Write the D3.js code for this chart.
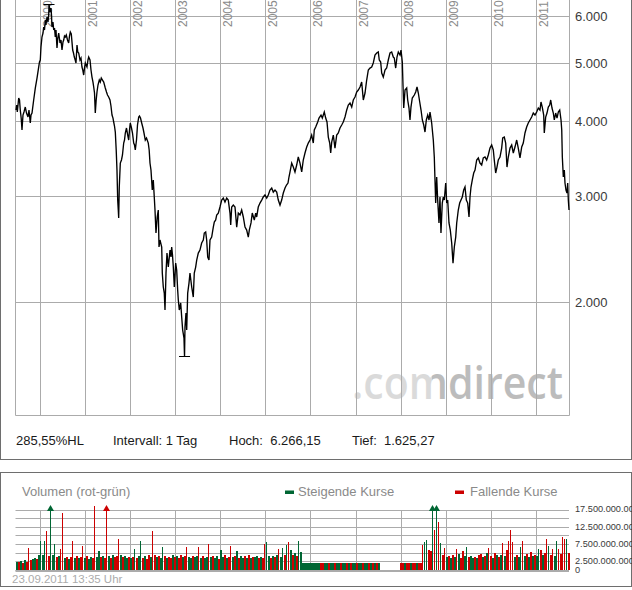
<!DOCTYPE html>
<html><head><meta charset="utf-8">
<script src="https://cdn.jsdelivr.net/npm/d3@7"></script>
<style>
html,body{margin:0;padding:0;background:#fff;overflow:hidden}
svg{display:block;font-family:"Liberation Sans",Arial,sans-serif}
</style></head><body>
<svg id="c" width="632" height="590"></svg>
<script>
// ---- price series (decimal year, index level) ----
const priceDates = [
1999.459,1999.474,1999.488,1999.519,1999.537,1999.554,1999.574,1999.592,1999.614,1999.636,1999.665,1999.692,1999.725,1999.747,1999.776,1999.792,1999.814,1999.851,1999.887,1999.925,1999.962,1999.980,1999.998,
2000.013,2000.035,2000.058,2000.073,2000.091,2000.109,2000.124,2000.146,2000.169,2000.184,2000.191,2000.220,2000.235,2000.246,2000.257,2000.279,2000.295,2000.313,2000.330,2000.346,2000.368,2000.386,2000.406,2000.435,2000.457,2000.479,2000.501,2000.517,2000.534,2000.552,2000.574,2000.601,2000.627,2000.645,2000.663,2000.685,2000.716,2000.734,2000.752,2000.772,2000.789,2000.812,2000.829,2000.849,2000.878,2000.900,2000.922,2000.940,2000.960,2000.978,2000.996,
2001.033,2001.055,2001.071,2001.100,2001.122,2001.144,2001.166,2001.182,2001.200,2001.217,2001.237,2001.255,2001.277,2001.306,2001.328,2001.350,2001.377,2001.404,2001.439,2001.466,2001.488,2001.514,2001.543,2001.565,2001.588,2001.610,2001.625,2001.643,2001.661,2001.681,2001.698,2001.714,2001.727,2001.736,2001.749,2001.772,2001.798,2001.820,2001.847,2001.865,2001.883,2001.909,2001.936,2001.958,2001.976,2001.993,
2002.020,2002.042,2002.069,2002.087,2002.104,2002.131,2002.153,2002.180,2002.197,2002.220,2002.246,2002.275,2002.297,2002.326,2002.353,2002.392,2002.412,2002.430,2002.452,2002.481,2002.503,2002.525,2002.541,2002.563,2002.590,2002.614,2002.630,2002.652,2002.690,2002.703,2002.725,2002.747,2002.763,2002.785,2002.807,2002.836,2002.874,2002.896,2002.911,2002.929,2002.947,2002.969,
2003.000,2003.022,2003.044,2003.058,2003.080,2003.111,2003.133,2003.155,2003.184,2003.196,2003.206,2003.228,2003.244,2003.266,2003.295,2003.317,2003.355,2003.390,2003.412,2003.443,2003.466,2003.501,2003.538,2003.576,2003.612,2003.634,2003.665,2003.687,2003.710,2003.738,2003.761,2003.798,2003.834,2003.856,2003.887,2003.909,2003.945,2003.982,
2004.020,2004.055,2004.093,2004.131,2004.166,2004.204,2004.220,2004.242,2004.277,2004.315,2004.353,2004.388,2004.426,2004.463,2004.499,2004.537,2004.574,2004.610,2004.632,2004.670,2004.698,2004.743,2004.774,2004.796,2004.831,2004.869,2004.907,2004.942,2004.980,
2005.018,2005.053,2005.091,2005.129,2005.164,2005.202,2005.240,2005.275,2005.313,2005.350,2005.386,2005.424,2005.457,2005.490,2005.512,2005.535,2005.572,2005.608,2005.645,2005.683,2005.718,2005.756,2005.794,2005.829,2005.867,2005.905,2005.940,2005.978,
2006.015,2006.051,2006.073,2006.104,2006.149,2006.178,2006.222,2006.251,2006.295,2006.326,2006.355,2006.384,2006.415,2006.437,2006.459,2006.495,2006.532,2006.570,2006.606,2006.643,2006.681,2006.716,2006.754,2006.792,2006.827,2006.865,2006.903,2006.938,2006.976,
2007.013,2007.049,2007.087,2007.124,2007.160,2007.198,2007.235,2007.271,2007.308,2007.346,2007.381,2007.419,2007.457,2007.492,2007.514,2007.545,2007.568,2007.603,2007.641,2007.678,2007.714,2007.752,2007.789,2007.825,2007.847,2007.878,2007.907,2007.936,2007.974,2007.996,
2008.025,2008.040,2008.056,2008.085,2008.122,2008.144,2008.173,2008.195,2008.217,2008.246,2008.291,2008.322,2008.351,2008.380,2008.411,2008.440,2008.469,2008.500,2008.528,2008.557,2008.588,2008.617,2008.639,2008.676,2008.712,2008.734,2008.765,2008.787,2008.809,2008.838,2008.860,2008.882,2008.911,2008.934,2008.956,2008.987,
2009.009,2009.031,2009.060,2009.089,2009.120,2009.149,2009.178,2009.209,2009.231,2009.266,2009.297,2009.326,2009.355,2009.386,2009.415,2009.444,2009.475,2009.504,2009.526,2009.548,2009.577,2009.608,2009.637,2009.674,2009.710,2009.747,2009.785,2009.820,2009.858,2009.895,2009.931,2009.969,
2010.006,2010.042,2010.064,2010.095,2010.124,2010.153,2010.191,2010.228,2010.251,2010.286,2010.317,2010.346,2010.375,2010.413,2010.450,2010.486,2010.523,2010.561,2010.596,2010.634,2010.672,2010.707,2010.745,2010.782,2010.818,2010.856,2010.893,2010.929,2010.967,
2011.004,2011.040,2011.077,2011.100,2011.128,2011.160,2011.173,2011.204,2011.233,2011.262,2011.293,2011.315,2011.344,2011.373,2011.395,2011.426,2011.455,2011.484,2011.515,2011.544,2011.560,2011.573,2011.595,2011.617,2011.632,2011.654,2011.676,2011.692,2011.706,2011.721
];
const priceValues = [
4183,4264,4151,4380,4347,4183,4056,3874,4103,4151,4231,4135,4072,4183,3980,4103,4135,4347,4551,4729,4933,5029,5068,
5327,5535,5621,5752,5686,5909,5796,5977,5864,6023,6266.15,6093,6187,6023,5752,5864,5686,5730,5535,5686,5307,5514,5621,5409,5472,5266,5430,5472,5557,5535,5578,5472,5409,5557,5642,5599,5266,5206,5126,5068,5010,5368,5226,5206,5068,5107,4933,4877,4784,4914,5010,
4933,5068,5126,5068,4877,4747,4657,4569,4465,4135,4347,4482,4604,4693,4657,4729,4693,4657,4551,4482,4431,4397,4347,4248,4103,4056,3995,3934,3844,3588,3323,2961,2850,2764,3113,3413,3453,3520,3685,3728,3830,3904,3800,3728,3874,3980,
3904,3830,3685,3657,3588,3728,3949,4072,4087,4056,3980,3904,3830,3728,3757,3685,3588,3413,3323,3077,3198,2996,2850,2609,2775,2850,2473,2540,2473,2238,2121,2072,1942,2238,2416,2290,2444,2380,2473,2398,2290,2121,
2325,2264,2096,2018,1942,1995,1890,1798,1743,1625.27,1819,1920,1798,2072,2153,2238,2121,2041,2238,2290,2352,2416,2444,2511,2540,2609,2619,2540,2380,2352,2540,2569,2669,2722,2743,2796,2817,2883,
2961,2984,2938,2984,2961,2817,2690,2883,2905,2883,2669,2817,2796,2850,2775,2669,2639,2569,2639,2712,2817,2743,2817,2775,2883,2927,2961,2996,3019,
2984,3019,3077,3101,3053,3077,3053,2961,2905,2961,3042,3101,3137,3161,3235,3298,3413,3361,3298,3387,3493,3413,3298,3453,3547,3629,3685,3728,
3800,3685,3874,3919,3995,4056,4103,4056,4151,4056,3995,3771,3685,3547,3699,3800,3615,3800,3830,3904,3949,3995,4072,4183,4264,4297,4231,4347,4397,
4482,4517,4569,4657,4347,4465,4693,4877,4914,4933,5010,5166,5206,5226,5068,5029,4821,4747,4877,4914,5068,5206,5226,5126,5107,4914,5126,5226,5166,5266,
5029,4604,4215,4517,4551,4347,4215,4026,4231,4380,4431,4482,4569,4465,4314,4183,4026,3949,3844,4026,4103,4026,4151,3980,3728,3493,2927,3235,2961,2712,2996,2609,2927,2996,2961,3161,
2927,2961,2712,2639,2511,2325,2473,2569,2712,2850,2927,2961,2996,3077,3113,2961,2927,2775,2996,3113,3198,3285,3323,3453,3480,3413,3387,3480,3493,3453,3520,3615,
3657,3588,3453,3285,3361,3453,3493,3615,3757,3771,3685,3361,3493,3615,3657,3547,3629,3728,3615,3480,3629,3685,3830,3919,3980,4026,4072,4135,4103,
4151,4215,4183,4314,4231,4103,3830,4072,4135,4231,4264,4347,4215,4135,4026,4135,4056,4151,4183,4026,3874,3493,3235,3323,3161,3077,3042,3161,2961,2850
];
const priceTicks = [2000, 3000, 4000, 5000, 6000];
const priceTickLabels = ["2.000", "3.000", "4.000", "5.000", "6.000"];
const yearTicks = [2000,2001,2002,2003,2004,2005,2006,2007,2008,2009,2010,2011];
const infoLabels = ["285,55%HL", "Intervall: 1 Tag", "Hoch:  6.266,15", "Tief:  1.625,27"];

// ---- volume series (billions, one bar per ~16 days from start) ----
const volumeStart = 1999.466;
const volumeStep = 0.04432;
const volume = [
2.6,2.4,2.8,2.2,2.9,2.5,6.5,3.0,3.3,3.6,3.2,4.6,8.6,4.4,8.4,11.4,4.2,25,4.5,7.6,
3.8,4.1,6.1,16.7,3.6,4.0,3.4,3.9,8.6,3.7,4.2,3.5,3.8,7.0,3.6,4.1,3.4,3.9,3.5,18.8,
4.0,5.5,3.8,4.3,3.6,25,4.1,3.5,4.4,3.9,4.2,9.1,4.5,3.8,4.3,3.6,4.0,3.7,3.9,6.3,
3.5,4.1,8.4,3.6,4.2,3.4,4.5,3.8,11.4,4.6,3.9,4.3,3.7,6.8,4.2,3.5,4.0,3.6,4.4,3.8,
4.1,3.7,4.5,3.9,4.2,6.8,4.0,3.6,4.3,3.8,4.1,6.9,3.7,4.2,3.5,4.0,7.6,3.8,4.3,3.6,
4.1,3.4,5.8,3.9,4.4,3.7,4.0,7.1,3.8,4.2,5.6,3.6,4.3,3.5,4.1,3.7,4.4,3.6,4.0,3.8,
4.2,3.5,4.0,3.7,7.6,8.1,4.1,3.6,4.3,3.9,4.5,6.2,4.0,6.6,4.4,7.3,8.1,6.0,4.6,5.0,
4.2,8.5,5.3,
2.3,2.3,2.3,2.3,2.3,2.3,2.3,2.3,2.3,2.3,2.3,2.3,2.3,2.3,2.3,2.3,2.3,2.3,2.3,2.3,
2.3,2.3,2.3,2.3,2.3,2.3,2.3,2.3,2.3,2.3,2.3,2.3,2.3,2.3,2.3,2.3,2.3,2.3,2.3,
null,null,null,null,null,null,null,null,null,null,
2.3,2.3,2.3,2.3,2.3,2.3,2.3,2.3,2.3,2.3,2.3,
7.4,8.1,8.7,6.0,5.6,25,11.7,25,14.1,7.9,4.5,6.6,3.8,4.2,3.6,4.4,3.9,6.1,4.8,3.7,
5.5,4.1,6.8,3.8,4.3,3.6,4.0,3.5,4.4,4.9,3.8,4.2,5.2,6.4,4.1,3.7,5.1,4.4,3.9,4.6,
7.9,4.3,5.9,8.4,11.7,8.2,4.0,4.5,3.8,6.9,8.4,4.2,4.8,3.9,5.4,4.1,4.6,4.3,6.1,6.0,
4.4,5.0,9.2,7.1,4.6,6.2,4.3,8.4,6.1,4.9,9.8,9.2,9.2,5.2
];
const volumeUp = [
1,0,1,0,1,0,0,0,1,1,0,1,1,1,1,0,0,1,1,1,
0,1,0,0,1,0,1,0,0,1,0,1,0,0,1,0,1,1,0,0,
1,1,0,1,0,0,1,0,1,0,0,0,1,0,1,1,0,1,0,1,
0,1,1,0,1,0,0,1,0,0,1,0,1,1,0,1,0,0,1,0,
1,0,0,1,0,0,1,1,0,1,1,0,1,0,1,1,0,1,0,1,
1,0,1,1,0,1,0,0,1,0,1,0,1,1,0,1,0,1,0,1,
1,0,1,0,0,1,1,0,1,0,1,0,1,1,0,1,0,1,0,1,
0,1,1,
1,1,1,1,1,1,1,1,1,0,0,1,1,0,1,1,0,1,1,0,
1,1,0,1,0,1,1,0,1,1,0,1,1,0,1,0,1,0,1,
0,0,0,0,0,0,0,0,0,0,
0,0,1,0,0,1,0,0,1,0,0,
0,1,1,0,0,1,0,1,0,1,0,0,1,0,1,0,1,0,1,0,
0,1,1,0,1,1,0,1,0,0,1,0,1,0,0,1,0,1,0,1,
0,1,0,0,0,0,1,0,1,1,0,1,0,1,0,1,0,1,1,0,
1,0,0,1,0,0,1,1,0,0,0,0,1,0
];
const volumeTicks = [0, 2.5, 5, 7.5, 10, 12.5, 15, 17.5];
const volumeTickLabels = {0: "0", 2.5: "2.500.000.000", 7.5: "7.500.000.000", 12.5: "12.500.000.000", 17.5: "17.500.000.000"};

const GREEN = "#006633", RED = "#cc0000", GRID = "#ababab";

const svg = d3.select("#c");
const x = d3.scaleLinear().domain([1999.448, 2011.732]).range([15.5, 569.5]);
const y = d3.scaleLog().domain([1298, 6380]).range([415, 0]);
const yv = d3.scaleLinear().domain([0, 17.5]).range([570.5, 510]);
const crisp = v => Math.round(v - 0.5) + 0.5;

// frames
svg.append("rect").attr("x", 0.5).attr("y", -1).attr("width", 631).attr("height", 460.5)
  .attr("fill", "none").attr("stroke", "#6e6e6e");
svg.append("rect").attr("x", 0.5).attr("y", 472.5).attr("width", 631).attr("height", 114)
  .attr("fill", "none").attr("stroke", "#6e6e6e");

// watermark: one text, two tones via a hard-stop gradient
const defs = svg.append("defs");
const grad = defs.append("linearGradient").attr("id", "wmGrad")
  .attr("gradientUnits", "userSpaceOnUse").attr("x1", 352).attr("x2", 563).attr("y1", 0).attr("y2", 0);
grad.append("stop").attr("offset", 0).attr("stop-color", "#dadada");
grad.append("stop").attr("offset", 0.38).attr("stop-color", "#dadada");
grad.append("stop").attr("offset", 0.38).attr("stop-color", "#bcbcbc");
grad.append("stop").attr("offset", 1).attr("stop-color", "#bcbcbc");
svg.append("text").attr("x", 352).attr("y", 399)
  .attr("font-family", "'Open Sans', sans-serif").attr("font-weight", 600).attr("font-size", 46)
  .attr("textLength", 211).attr("lengthAdjust", "spacingAndGlyphs")
  .attr("fill", "url(#wmGrad)").text(".comdirect");

// main grid
const g = svg.append("g");
g.selectAll("line.v").data(yearTicks).join("line")
  .attr("x1", d => crisp(x(d))).attr("x2", d => crisp(x(d)))
  .attr("y1", 0).attr("y2", 415).attr("stroke", GRID);
g.selectAll("line.h").data(priceTicks).join("line")
  .attr("x1", 15.5).attr("x2", 569.5)
  .attr("y1", d => crisp(y(d))).attr("y2", d => crisp(y(d))).attr("stroke", GRID);
g.append("path").attr("d", "M15.5,0V415.5H569.5V0").attr("fill", "none").attr("stroke", GRID);

// year labels
g.selectAll("text.yr").data(yearTicks).join("text")
  .attr("transform", d => `translate(${crisp(x(d)) + 11.5},27) rotate(-90)`)
  .attr("font-size", 12).attr("fill", "#8a8a8a").text(d => d);

// price axis labels
g.selectAll("text.pl").data(priceTicks).join("text")
  .attr("x", 575).attr("y", d => y(d)).attr("dy", "0.36em")
  .attr("font-size", 13).attr("fill", "#3a3a3a")
  .text((d, i) => priceTickLabels[i]);

// price line
const pts = priceDates.map((d, i) => [d, priceValues[i]]);
svg.append("path").datum(pts)
  .attr("d", d3.line().x(d => x(d[0])).y(d => y(d[1])))
  .attr("fill", "none").attr("stroke", "#000").attr("stroke-width", 1.35)
  .attr("stroke-linejoin", "miter");

// high / low markers
const hi = pts[d3.maxIndex(pts, d => d[1])];
const lo = pts[d3.minIndex(pts, d => d[1])];
[hi, lo].forEach(p => {
  svg.append("line").attr("x1", x(p[0]) - 5.5).attr("x2", x(p[0]) + 5.5)
    .attr("y1", crisp(y(p[1]))).attr("y2", crisp(y(p[1]))).attr("stroke", "#000").attr("stroke-width", 1);
});

// info row
const infoX = [16, 113, 229, 352];
svg.selectAll("text.info").data(infoLabels).join("text")
  .attr("x", (d, i) => infoX[i]).attr("y", 445)
  .attr("font-size", 13).attr("fill", "#1a1a1a").attr("xml:space", "preserve")
  .style("white-space", "pre").text(d => d);

// ---- volume panel ----
svg.append("text").attr("x", 22).attr("y", 496).attr("font-size", 13).attr("fill", "#8a8a8a")
  .text("Volumen (rot-grün)");
svg.append("rect").attr("x", 285).attr("y", 490.5).attr("width", 9).attr("height", 3.5).attr("fill", GREEN);
svg.append("text").attr("x", 298).attr("y", 496).attr("font-size", 13).attr("fill", "#8a8a8a").text("Steigende Kurse");
svg.append("rect").attr("x", 455).attr("y", 490.5).attr("width", 9).attr("height", 3.5).attr("fill", RED);
svg.append("text").attr("x", 470).attr("y", 496).attr("font-size", 13).attr("fill", "#8a8a8a").text("Fallende Kurse");

const vg = svg.append("g");
vg.selectAll("line.vh").data(volumeTicks).join("line")
  .attr("x1", 15.5).attr("x2", 569)
  .attr("y1", d => crisp(yv(d))).attr("y2", d => crisp(yv(d))).attr("stroke", GRID);
vg.selectAll("line.vv").data(yearTicks).join("line")
  .attr("x1", d => crisp(x(d))).attr("x2", d => crisp(x(d)))
  .attr("y1", 510).attr("y2", 571).attr("stroke", GRID);
vg.append("line").attr("x1", 15.5).attr("x2", 569).attr("y1", 571).attr("y2", 571)
  .attr("stroke", GRID).attr("stroke-width", 2);

const bars = volume.map((v, i) => ({d: volumeStart + i * volumeStep, v, up: volumeUp[i]}))
  .filter(b => b.v !== null);
const CAP = 20;
const barX = b => Math.round(x(b.d));
const barTop = b => Math.round(b.v > CAP ? 510 : yv(b.v));
vg.selectAll("rect.bar").data(bars).join("rect")
  .attr("x", b => barX(b))
  .attr("width", b => b.v > 6 ? 1 : 2)
  .attr("y", b => barTop(b))
  .attr("height", b => 570 - barTop(b))
  .attr("fill", b => b.up ? GREEN : RED)
  .attr("shape-rendering", "crispEdges");
vg.selectAll("path.arrow").data(bars.filter(b => b.v > CAP)).join("path")
  .attr("d", b => { const cx = barX(b) + 0.5; return `M${cx - 3.5},511L${cx},505L${cx + 3.5},511Z`; })
  .attr("fill", b => b.up ? GREEN : RED);

vg.selectAll("text.vl").data(volumeTicks.filter(t => volumeTickLabels[t] !== undefined)).join("text")
  .attr("x", 575).attr("y", d => yv(d) - 1).attr("dy", "0.36em")
  .attr("font-size", 9.2).attr("fill", "#3a3a3a")
  .text(d => volumeTickLabels[d]);

svg.append("text").attr("x", 12).attr("y", 583).attr("font-size", 11.5).attr("fill", "#ababab")
  .text("23.09.2011 13:35 Uhr");
</script>
</body></html>
